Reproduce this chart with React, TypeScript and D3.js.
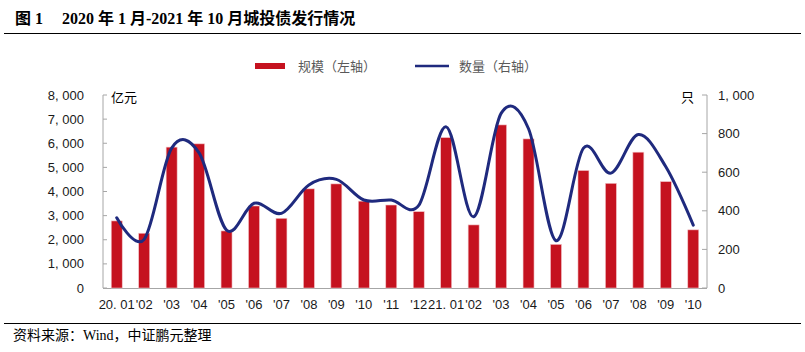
import * as d3 from "d3";

const months = ["20. 01", "'02", "'03", "'04", "'05", "'06", "'07", "'08", "'09", "'10", "'11", "'12",
  "21. 01", "'02", "'03", "'04", "'05", "'06", "'07", "'08", "'09", "'10"];
// 规模（亿元）
const amount = [2780, 2270, 5840, 5975, 2365, 3400, 2890, 4110, 4315, 3600, 3440, 3165,
  6235, 2615, 6760, 6180, 1810, 4870, 4340, 5630, 4410, 2410];
// 数量（只）
const count = [364, 252, 725, 700, 300, 439, 387, 534, 563, 456, 456, 428,
  835, 369, 905, 825, 245, 725, 595, 795, 628, 326];
const leftTicks = [0, 1000, 2000, 3000, 4000, 5000, 6000, 7000, 8000];
const rightTicks = [0, 200, 400, 600, 800, 1000];

const W = 805, H = 352;
const X0 = 103, X1 = 707, Y0 = 288, Y1 = 95;
const RED = "#C5121F";
const NAVY = "#1F2A7E";
const AXIS = "#A6A6A6";
const sans = "'Liberation Sans', Arial, 'Noto Sans CJK SC', sans-serif";
const cjk = "'Noto Sans CJK SC', sans-serif";

const fmt = (v: number) => (v >= 1000 ? `${Math.floor(v / 1000)}, ${String(v % 1000).padStart(3, "0")}` : String(v));

export default function App() {
  const x = d3.scaleBand<number>().domain(months.map((_, i) => i)).range([X0, X1]).paddingInner(0.6).paddingOuter(0.3);
  const yL = d3.scaleLinear().domain([0, 8000]).range([Y0, Y1]);
  const yR = d3.scaleLinear().domain([0, 1000]).range([Y0, Y1]);
  const cx = (i: number) => (x(i) as number) + x.bandwidth() / 2;

  const line = d3.line<number>()
    .x((_, i) => cx(i))
    .y(d => yR(d))
    .curve(d3.curveCardinal.tension(0));

  return (
    <svg width={W} height={H} style={{ position: "absolute", left: 0, top: 0, background: "#fff" }}>
      {/* title */}
      <text x={15} y={24} fontFamily="'Liberation Serif', 'Noto Sans CJK SC', serif" fontWeight="bold" fontSize={16} fill="#000">
        图 1
      </text>
      <text x={62} y={24} fontFamily="'Liberation Serif', 'Noto Sans CJK SC', serif" fontWeight="bold" fontSize={16} fill="#000">
        2020 年 1 月-2021 年 10 月城投债发行情况
      </text>
      <line x1={4} x2={801} y1={33.5} y2={33.5} stroke="#000" strokeWidth={1.2} />

      {/* legend */}
      <rect x={255} y={63} width={30} height={6} fill={RED} />
      <text x={298} y={71} fontFamily={cjk} fontSize={13} fill="#595959">规模（左轴）</text>
      <line x1={415} x2={449} y1={66} y2={66} stroke={NAVY} strokeWidth={2.5} />
      <text x={459} y={71} fontFamily={cjk} fontSize={13} fill="#595959">数量（右轴）</text>

      {/* axes */}
      <line x1={X0} x2={X0} y1={Y1} y2={Y0} stroke={AXIS} />
      <line x1={X1} x2={X1} y1={Y1} y2={Y0} stroke={AXIS} />
      <line x1={X0} x2={X1} y1={Y0 + 0.5} y2={Y0 + 0.5} stroke={AXIS} />
      {leftTicks.map(t => (
        <g key={"l" + t}>
          <line x1={X0} x2={X0 + 4} y1={yL(t)} y2={yL(t)} stroke={AXIS} />
          <text x={84} y={yL(t) + 4.5} textAnchor="end" fontFamily={sans} fontSize={13} fill="#1a1a1a">{fmt(t)}</text>
        </g>
      ))}
      {rightTicks.map(t => (
        <g key={"r" + t}>
          <line x1={X1 - 5} x2={X1} y1={yR(t)} y2={yR(t)} stroke={AXIS} />
          <text x={718} y={yR(t) + 4.5} textAnchor="start" fontFamily={sans} fontSize={13} fill="#1a1a1a">{fmt(t)}</text>
        </g>
      ))}
      <text x={111} y={102} fontFamily={cjk} fontSize={13} fill="#000">亿元</text>
      <text x={681} y={102} fontFamily={cjk} fontSize={13} fill="#000">只</text>

      {/* bars */}
      {amount.map((v, i) => (
        <rect key={i} x={x(i)} y={yL(v)} width={x.bandwidth()} height={Y0 - yL(v)}
          fill={RED} stroke="#F2C4C8" strokeWidth={0.6} />
      ))}

      {/* line */}
      <path d={line(count) || ""} fill="none" stroke={NAVY} strokeWidth={3} strokeLinecap="round" />

      {/* x labels */}
      {months.map((m, i) => (
        <text key={"m" + i} x={cx(i)} y={309} textAnchor="middle" fontFamily={sans} fontSize={13} fill="#1a1a1a">{m}</text>
      ))}

      {/* source */}
      <line x1={4} x2={801} y1={323.5} y2={323.5} stroke="#000" strokeWidth={1.2} />
      <text x={13} y={340} fontFamily={cjk} fontSize={14} fill="#000">
        资料来源：<tspan fontFamily="'Liberation Serif', serif">Wind</tspan>，中证鹏元整理
      </text>
    </svg>
  );
}
